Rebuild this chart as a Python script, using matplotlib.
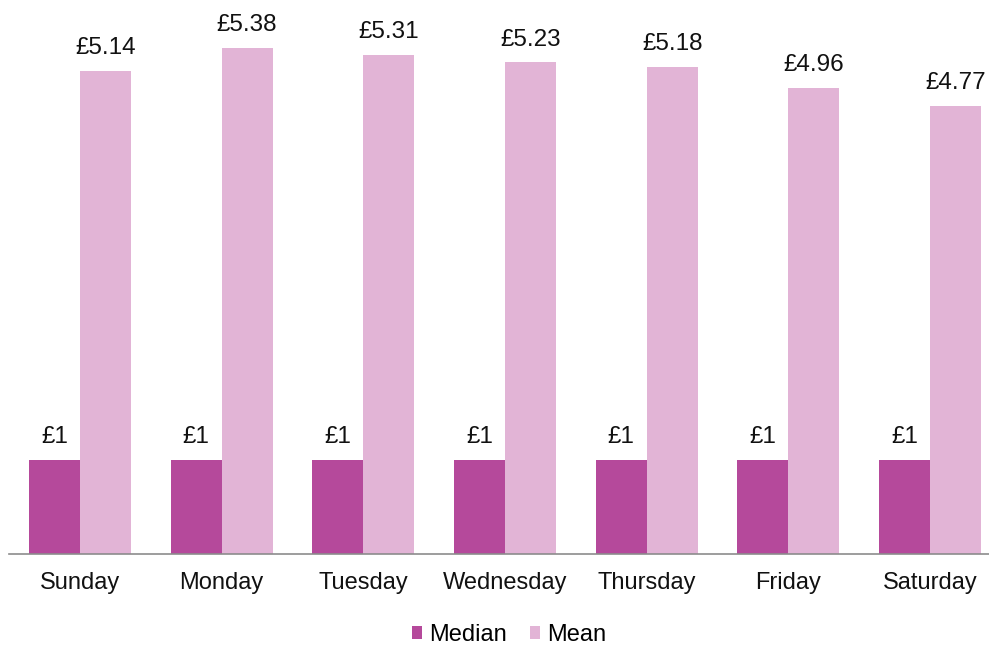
import matplotlib.pyplot as plt
import numpy as np

plt.rcParams['font.family'] = ['Liberation Sans', 'DejaVu Sans']

days = ["Sunday", "Monday", "Tuesday", "Wednesday", "Thursday", "Friday", "Saturday"]
median = [1, 1, 1, 1, 1, 1, 1]
mean = [5.14, 5.38, 5.31, 5.23, 5.18, 4.96, 4.77]

c_median = "#B5499B"
c_mean = "#E2B4D6"

fig = plt.figure(figsize=(9.89, 6.46), dpi=100)
ax = fig.add_axes([9 / 989, 92 / 646, 992 / 989, 554 / 646])

x = np.arange(len(days))
w = 0.36
b1 = ax.bar(x - w / 2, median, w, color=c_median, label="Median")
b2 = ax.bar(x + w / 2, mean, w, color=c_mean, label="Mean")

for bars, vals, fmt in [(b1, median, "£{:d}"), (b2, mean, "£{:.2f}")]:
    for r, v in zip(bars, vals):
        ax.annotate(fmt.format(v), (r.get_x() + r.get_width() / 2, v),
                    xytext=(0, 8.5), textcoords="offset points",
                    ha="center", va="bottom", fontsize=17.5, color="#111111",
                    annotation_clip=False)

ax.set_xlim(-0.5, len(days) - 0.5)
ax.set_ylim(0, 554 / 94)
ax.set_yticks([])
ax.set_xticks(x)
ax.set_xticklabels(days, fontsize=17, color="#111111")
ax.tick_params(axis="x", length=0, pad=13)
for s in ["top", "right", "left"]:
    ax.spines[s].set_visible(False)
ax.spines["bottom"].set_color("#8C8C8C")
ax.spines["bottom"].set_linewidth(1.2)

fig.legend(handles=[b1, b2], loc="center", bbox_to_anchor=(509 / 989, 1 - 635 / 646),
           ncol=2, frameon=False, fontsize=17, handlelength=0.45, handleheight=0.45,
           handletextpad=0.3, columnspacing=0.95, borderpad=0.1)

fig.savefig("out.png", dpi=100)
